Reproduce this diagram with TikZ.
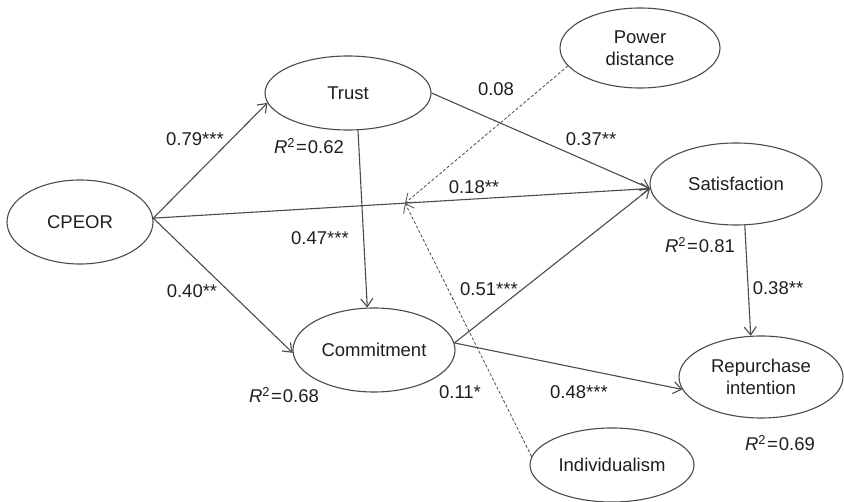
\documentclass[tikz,border=0pt]{standalone}
\usepackage{fontspec}
\setmainfont{Liberation Sans}
\usetikzlibrary{shapes.geometric,arrows.meta}
\definecolor{linegray}{RGB}{75,75,75}
\definecolor{textc}{RGB}{30,30,30}
\newcommand{\rsq}[1]{\textit{R}\textsuperscript{2}\kern1pt=\kern1pt#1}
\begin{document}
\begin{tikzpicture}[x=1pt,y=-1pt,
  lat/.style={ellipse,draw=linegray,line width=1.1pt,inner sep=0pt,text=textc,align=center,font=\fontsize{18.5}{22}\selectfont},
  pathar/.style={draw=linegray,line width=1.1pt,-{Straight Barb[length=8pt,width=12pt]}},
  modar/.style={draw=linegray,line width=0.8pt,densely dashed,-{Straight Barb[length=8pt,width=12pt]}},
  lab/.style={text=textc,font=\fontsize{18.5}{22}\selectfont,inner sep=0pt}]
\useasboundingbox (0,0) rectangle (844,502);
% latent variables
\node[lat,minimum width=146pt,minimum height=84pt] (cpeor) at (80,222) {CPEOR};
\node[lat,minimum width=166pt,minimum height=74pt] (trust) at (348,93) {Trust};
\node[lat,minimum width=160pt,minimum height=80pt] (pd) at (640,48) {Power\\distance};
\node[lat,minimum width=172pt,minimum height=82pt] (sat) at (736,184) {Satisfaction};
\node[lat,minimum width=162pt,minimum height=84pt] (comm) at (374,350) {Commitment};
\node[lat,minimum width=164pt,minimum height=82pt] (rep) at (761,377) {Repurchase\\intention};
\node[lat,minimum width=164pt,minimum height=74pt] (ind) at (612,465) {Individualism};
% paths
\draw[pathar] (cpeor.3) -- (trust.187);
\draw[pathar] (cpeor.3) -- (comm.182);
\draw[pathar] (cpeor.3) -- (sat.183);
\draw[pathar] (trust.east) -- (sat.183);
\draw[pathar] (trust.285) -- (comm.99);
\draw[pathar] (comm.5) -- (sat.183);
\draw[pathar] (comm.5) -- (rep.189);
\draw[pathar] (sat.282) -- (rep.104);
% moderation point
\path (cpeor.3) -- (sat.183) coordinate[pos=0.507] (modpt);
\draw[modar] (pd.194) -- (modpt);
\draw[modar] (ind.174) -- (modpt);
% labels
\node[lab] (l79) at (195,139) {0.79***};
\node[lab] (r62) at (309,146) {\rsq{0.62}};
\node[lab] (l47) at (320,238) {0.47***};
\node[lab] (l40) at (192,291) {0.40**};
\node[lab] (r68) at (284,395) {\rsq{0.68}};
\node[lab] (l08) at (496,89) {0.08};
\node[lab] (l37) at (591,139) {0.37**};
\node[lab] (l18) at (474,187) {0.18**};
\node[lab] (r81) at (700,245) {\rsq{0.81}};
\node[lab] (l51) at (489,289) {0.51***};
\node[lab] (l38) at (778,288) {0.38**};
\node[lab] (l11) at (460,392) {0.11*};
\node[lab] (l48) at (579,392) {0.48***};
\node[lab] (r69) at (780,443) {\rsq{0.69}};
\end{tikzpicture}
\end{document}
